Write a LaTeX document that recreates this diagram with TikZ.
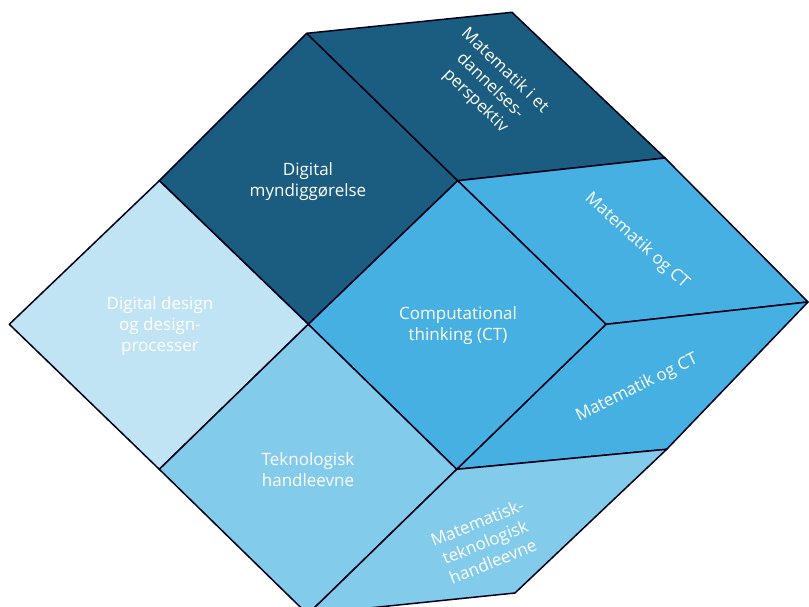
\documentclass[tikz,border=0pt]{standalone}
\usepackage{fontspec}
\setmainfont{Open Sans}
\definecolor{dk}{HTML}{1A5D80}
\definecolor{md}{HTML}{45B0E1}
\definecolor{lt}{HTML}{C1E4F5}
\definecolor{lm}{HTML}{83CBEB}
\begin{document}
\begin{tikzpicture}[x=1pt,y=-1pt,
  face/.style={draw=black!90!blue, line width=1.5pt, line join=round},
  lbl/.style={text=white, align=center, font=\fontsize{17}{21}\selectfont, inner sep=0pt}]
\useasboundingbox (0,0) rectangle (809,607);
\begin{scope}
\clip (0,0) rectangle (809,607);
\coordinate (L) at (9.3,324.3);
\coordinate (A) at (159.3,180.7);
\coordinate (T1) at (306.7,33.3);
\coordinate (T2) at (512,12.3);
\coordinate (R1) at (665,158);
\coordinate (C1) at (457.7,180.7);
\coordinate (M) at (308.3,324.3);
\coordinate (C2) at (606,324.3);
\coordinate (R2) at (808,302);
\coordinate (C3) at (456.7,469.3);
\coordinate (R3) at (666.7,449.3);
\coordinate (B) at (159.3,469.3);
\coordinate (R4) at (515,593);
\coordinate (BB) at (307.7,614.3);
\filldraw[face, fill=dk] (A) -- (T1) -- (C1) -- (M) -- cycle;
\filldraw[face, fill=dk] (T1) -- (T2) -- (R1) -- (C1) -- cycle;
\filldraw[face, fill=md] (C1) -- (R1) -- (R2) -- (C2) -- cycle;
\filldraw[face, fill=md] (C2) -- (R2) -- (R3) -- (C3) -- cycle;
\filldraw[face, fill=md] (M) -- (C1) -- (C2) -- (C3) -- cycle;
\filldraw[face, fill=lt] (L) -- (A) -- (M) -- (B) -- cycle;
\filldraw[face, fill=lm] (B) -- (M) -- (C3) -- (BB) -- cycle;
\filldraw[face, fill=lm] (C3) -- (R3) -- (R4) -- (BB) -- cycle;
\end{scope}
\node[lbl] (n1) at (308,182) {Digital\\myndiggørelse};
\node[lbl, rotate=-44] (n2) at (490,86) {Matematik i et\\dannelses-\\perspektiv};
\node[lbl, rotate=-42] (n3) at (637,241) {Matematik og CT};
\node[lbl] (n4) at (458,326) {Computational\\thinking (CT)};
\node[lbl, rotate=26] (n5) at (637,388) {Matematik og CT};
\node[lbl] (n6) at (160,326) {Digital design\\og design-\\processer};
\node[lbl] (n7) at (308,470) {Teknologisk\\handleevne};
\node[lbl, rotate=22] (n8) at (485,542) {Matematisk-\\teknologisk\\handleevne};
\end{tikzpicture}
\end{document}
